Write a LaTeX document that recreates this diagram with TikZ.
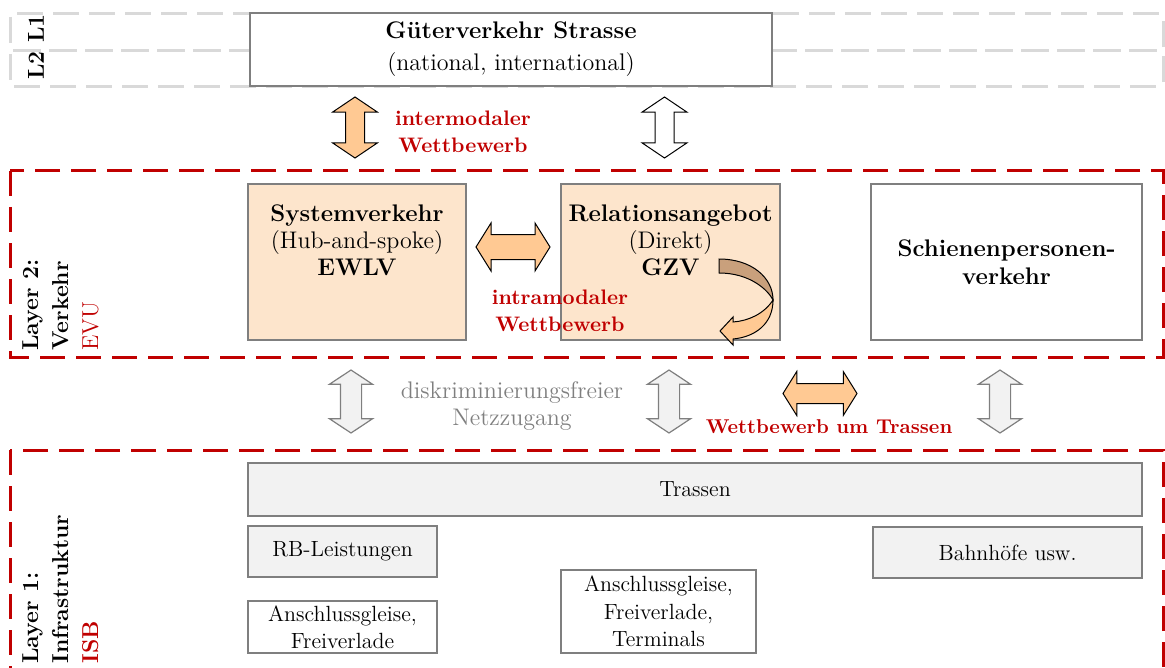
\documentclass[tikz,border=0pt]{standalone}
\usepackage{xcolor}
\usepackage{tikz}
\usetikzlibrary{shapes.arrows,arrows.meta,positioning,calc}

\definecolor{evured}{HTML}{C00000}
\definecolor{orangefill}{HTML}{FFC993}
\definecolor{peach}{HTML}{FDE5CC}
\definecolor{boxgray}{HTML}{F2F2F2}
\definecolor{linegray}{HTML}{7F7F7F}
\definecolor{dashgray}{HTML}{D9D9D9}
\definecolor{curvebrown}{HTML}{C9A07C}

\begin{document}
\begin{tikzpicture}[x=0.5pt, y=-0.5pt,
  every node/.style={font=\fontsize{11}{13.75}\selectfont, inner sep=0pt},
  box/.style={rectangle, draw=linegray, line width=0.6pt, align=center},
  layer/.style={draw=evured, line width=1.5pt, dash pattern=on 12.5pt off 5.5pt},
  toplayer/.style={draw=dashgray, line width=1.5pt, dash pattern=on 13pt off 5pt, rounded corners=1.5pt},
  layerlabel/.style={rotate=90, anchor=north west, align=left, font=\fontsize{11.5}{15}\selectfont\bfseries},
  redlabel/.style={text=evured, align=center, font=\fontsize{10.5}{13.5}\selectfont\bfseries},
  vblock/.style={double arrow, draw, line width=0.5pt, rotate=90, inner xsep=0pt, inner ysep=4.5pt,
    minimum height=30.5pt, double arrow head extend=6.5pt, double arrow tip angle=112},
  hblock/.style={double arrow, draw, line width=0.5pt, fill=orangefill, inner xsep=0pt, inner ysep=5.5pt,
    minimum height=37pt, double arrow head extend=6pt, double arrow tip angle=116},
  grayblock/.style={double arrow, draw=linegray, line width=0.6pt, fill=boxgray, rotate=90, inner xsep=0pt,
    inner ysep=5pt, minimum height=31.5pt, double arrow head extend=5.5pt, double arrow tip angle=113}
]
\useasboundingbox (0,0) rectangle (1165,668);
\clip (0,0) rectangle (1165,668);

% Layer 1/2 band at the top
\draw[toplayer] (10,14) rectangle (1163,51);
\draw[toplayer] (10,51) rectangle (1163,87);
\node[rotate=90, font=\fontsize{11.5}{14}\selectfont\bfseries] (ltop) at (36,47) {L2 L1};
\node[box, fill=white, minimum width=261pt, minimum height=36.5pt, font=\fontsize{12}{16}\selectfont] (gueter) at (511,49.5) {\textbf{Güterverkehr Strasse}\\(national, international)};

\node[vblock, fill=orangefill] (inter) at (355,127.5) {};
\node[vblock, fill=white] (interb) at (664.5,127.5) {};
\node[redlabel] (intertxt) at (463,131.5) {intermodaler\\Wettbewerb};

% Layer 2
\draw[layer] (10,171) rectangle (1163,357);
\node[layerlabel] (l2) at (22,351) {Layer 2:\\Verkehr\\\textcolor{evured}{\mdseries EVU}};

\node[box, fill=peach, minimum width=109pt, minimum height=78pt] (sys) at (357,262) {};
\node[below=10.5pt of sys.north, align=center, font=\fontsize{12}{13.5}\selectfont] (systxt) {\textbf{Systemverkehr}\\(Hub-and-spoke)\\\textbf{EWLV}};
\node[box, fill=peach, minimum width=109.5pt, minimum height=78pt] (rel) at (670.5,262) {};
\node[below=10.5pt of rel.north, align=center, font=\fontsize{12}{13.5}\selectfont] (reltxt) {\textbf{Relationsangebot}\\(Direkt)\\\textbf{GZV}};
\node[box, fill=white, minimum width=135.5pt, minimum height=78pt, font=\fontsize{12}{14}\selectfont\bfseries] (spv) at (1006.5,262) {Schienenpersonen-\\verkehr};

\node[hblock, inner ysep=6pt, minimum height=37pt, double arrow head extend=5.75pt] (intra) at (513,247) {};
\node[redlabel] (intratxt) at (560,311) {intramodaler\\Wettbewerb};

% curved arrow in GZV
\draw[fill=curvebrown, line width=0.5pt] (719,259) .. controls (752,259) and (773,278) .. (773,300)
  .. controls (768,290) and (750,273) .. (719,273) -- cycle;
\draw[fill=orangefill, line width=0.5pt] (773,300) .. controls (773,324) and (755,337) .. (733,339)
  -- (733,345) -- (720,331) -- (733,317) -- (733,322)
  .. controls (748,321) and (764,314) .. (773,300) -- cycle;

% access between the layers
\node[grayblock] (acc1) at (351,401.5) {};
\node[grayblock] (acc2) at (669,401.5) {};
\node[grayblock] (acc3) at (1000,401.5) {};
\node[align=center, text=linegray, font=\fontsize{12}{13.5}\selectfont] (acctxt) at (512,406.5) {diskriminierungsfreier\\Netzzugang};
\node[hblock, inner ysep=4.75pt, double arrow head extend=6pt] (trcomp) at (820,393.5) {};
\node[redlabel, font=\fontsize{10}{13.5}\selectfont\bfseries] (trtxt) at (829,427) {Wettbewerb um Trassen};

% Layer 1
\draw[layer] (10,450) rectangle (1163,720);
\node[layerlabel] (l1) at (22,664) {Layer 1:\\Infrastruktur\\\textcolor{evured}{ISB}};

\node[box, fill=boxgray, minimum width=447pt, minimum height=26.5pt] (trassen) at (695,489.5) {Trassen};
\node[box, fill=boxgray, minimum width=94.5pt, minimum height=25.5pt] (rbl) at (342.5,551.5) {RB-Leistungen};
\node[box, fill=boxgray, minimum width=134.5pt, minimum height=25.5pt] (bhf) at (1007.5,552.5) {Bahnhöfe usw.};
\node[box, fill=white, minimum width=94.5pt, minimum height=26pt] (anl) at (342.5,627) {Anschlussgleise,\\Freiverlade};
\node[box, fill=white, minimum width=97.5pt, minimum height=41.5pt] (ant) at (658.5,611.5) {Anschlussgleise,\\Freiverlade,\\Terminals};
\end{tikzpicture}
\end{document}
